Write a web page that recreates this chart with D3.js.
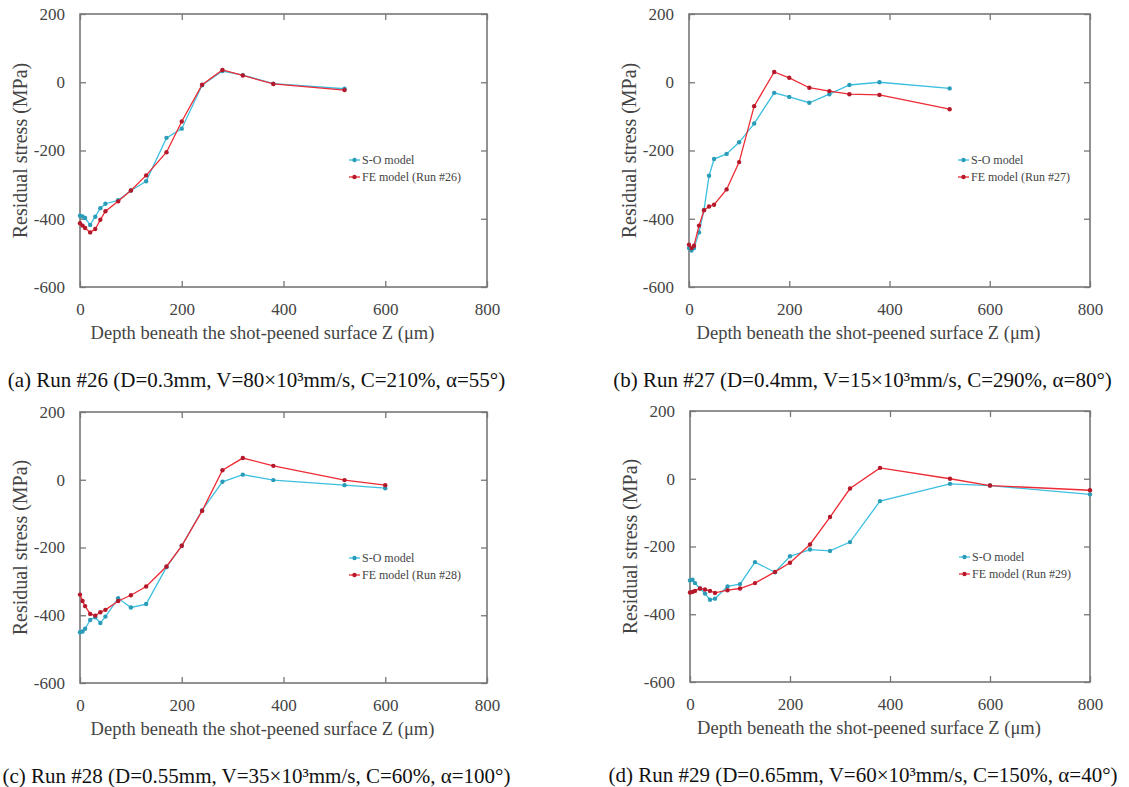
<!DOCTYPE html>
<html>
<head>
<meta charset="utf-8">
<style>
  body { margin: 0; background: #fff; }
  svg { display: block; }
  text { font-family: "Liberation Serif", serif; }
  .tick line { stroke: #777; stroke-width: 1.3; }
</style>
<script src="https://d3js.org/d3.v7.min.js"></script>
</head>
<body>
<script>
// depth grids (um)
var depthAB = [0, 5, 10, 20, 30, 40, 50, 75, 100, 130, 170, 200, 240, 280, 320, 380, 520];
var depthC = [0, 5, 10, 20, 30, 40, 50, 75, 100, 130, 170, 200, 240, 280, 320, 380, 520, 600];
var depthD = [0, 5, 10, 20, 30, 40, 50, 75, 100, 130, 170, 200, 240, 280, 320, 380, 520, 600, 800];

// residual stress (MPa)
var soA = [-391, -393, -398, -418, -394, -369, -356, -346, -317, -290, -163, -136, -9, 33, 21, -4, -19];
var feA = [-413, -420, -427, -440, -430, -403, -378, -349, -317, -273, -205, -115, -7, 36, 20, -5, -23];
var soB = [-486, -493, -486, -440, -374, -274, -225, -210, -176, -121, -31, -43, -60, -35, -8, 0, -18];
var feB = [-476, -486, -479, -420, -375, -364, -359, -314, -234, -70, 30, 13, -16, -26, -35, -37, -79];
var soC = [-450, -448, -440, -414, -406, -423, -404, -350, -377, -367, -258, -195, -90, -6, 15, -1, -16, -25];
var feC = [-339, -358, -373, -396, -401, -391, -384, -358, -341, -315, -256, -195, -92, 28, 64, 41, -1, -16];
var soD = [-300, -298, -308, -324, -339, -357, -354, -318, -311, -246, -276, -229, -209, -213, -187, -66, -15, -20, -46];
var feD = [-336, -334, -331, -324, -327, -331, -337, -329, -324, -308, -275, -248, -194, -113, -29, 32, 0, -20, -34];

var xTicks = [0, 200, 400, 600, 800];
var yTicks = [200, 0, -200, -400, -600];
var runLabels = ["FE model (Run #26)", "FE model (Run #27)", "FE model (Run #28)", "FE model (Run #29)"];
var captions = [
  "(a) Run #26 (D=0.3mm, V=80\u00d710\u00b3mm/s, C=210%, \u03b1=55\u00b0)",
  "(b) Run #27 (D=0.4mm, V=15\u00d710\u00b3mm/s, C=290%, \u03b1=80\u00b0)",
  "(c) Run #28 (D=0.55mm, V=35\u00d710\u00b3mm/s, C=60%, \u03b1=100\u00b0)",
  "(d) Run #29 (D=0.65mm, V=60\u00d710\u00b3mm/s, C=150%, \u03b1=40\u00b0)"
];

var serif = "Liberation Serif";
var soColor = "#3cbfe0", soMark = "#2a9cb8";
var feColor = "#ee2a34", feMark = "#b5182a";

var svg = d3.select("body").append("svg")
  .attr("width", 1129).attr("height", 787);

var panels = [
  {x: 80,  y: 14,  w: 407, h: 273, depth: depthAB, so: soA, fe: feA},
  {x: 689, y: 14,  w: 401, h: 273, depth: depthAB, so: soB, fe: feB},
  {x: 80,  y: 412, w: 407, h: 271, depth: depthC,  so: soC, fe: feC},
  {x: 690, y: 411, w: 400, h: 271, depth: depthD,  so: soD, fe: feD}
];

panels.forEach(function (p, i) {
  var g = svg.append("g").attr("transform", "translate(" + p.x + "," + p.y + ")");
  var x = d3.scaleLinear().domain([0, 800]).range([0, p.w]);
  var y = d3.scaleLinear().domain([-600, 200]).range([p.h, 0]);

  // axes with inward ticks, mirrored on top/right
  var ax = [
    g.append("g").attr("transform", "translate(0," + p.h + ")")
      .call(d3.axisBottom(x).tickValues(xTicks).tickSizeInner(-6).tickSizeOuter(0).tickPadding(16)),
    g.append("g")
      .call(d3.axisLeft(y).tickValues(yTicks).tickSizeInner(-6).tickSizeOuter(0).tickPadding(15)
        .tickFormat(function (d) { return String(d); })),
    g.append("g")
      .call(d3.axisTop(x).tickValues(xTicks).tickSizeInner(-6).tickSizeOuter(0).tickFormat("")),
    g.append("g").attr("transform", "translate(" + p.w + ",0)")
      .call(d3.axisRight(y).tickValues(yTicks).tickSizeInner(-6).tickSizeOuter(0).tickFormat(""))
  ];
  ax.forEach(function (a) {
    a.attr("font-family", serif).attr("font-size", 17);
    a.selectAll(".tick text").attr("fill", "#444").attr("font-family", serif);
    a.select(".domain").remove();
  });

  g.append("rect")
    .attr("width", p.w).attr("height", p.h)
    .attr("fill", "none").attr("stroke", "#777").attr("stroke-width", 1.6);

  var line = d3.line()
    .x(function (d) { return x(d[0]); })
    .y(function (d) { return y(d[1]); });

  var series = [
    {vals: p.so, color: soColor, mark: soMark},
    {vals: p.fe, color: feColor, mark: feMark}
  ];
  series.forEach(function (s) {
    var pts = d3.zip(p.depth, s.vals);
    g.append("path").datum(pts)
      .attr("d", line).attr("fill", "none")
      .attr("stroke", s.color).attr("stroke-width", 1.3);
    g.selectAll(null).data(pts).enter().append("circle")
      .attr("cx", function (d) { return x(d[0]); })
      .attr("cy", function (d) { return y(d[1]); })
      .attr("r", 2.2).attr("fill", s.mark);
  });

  // legend
  var names = ["S-O model", runLabels[i]];
  var lg = g.append("g").attr("transform", "translate(269,146)");
  series.forEach(function (s, k) {
    var row = lg.append("g").attr("transform", "translate(0," + (k * 17) + ")");
    row.append("line").attr("x1", 0).attr("x2", 11)
      .attr("stroke", s.color).attr("stroke-width", 1.3);
    row.append("circle").attr("cx", 5.5).attr("r", 2.2).attr("fill", s.mark);
    row.append("text").attr("x", 13).attr("dy", "0.35em")
      .attr("font-family", serif)
      .attr("font-size", 12).attr("fill", "#444").text(names[k]);
  });

  // axis titles
  g.append("text")
    .attr("transform", "translate(-60," + (p.h / 2) + ") rotate(-90)")
    .attr("text-anchor", "middle").attr("dy", "0.35em")
    .attr("font-family", serif)
    .attr("font-size", 20).attr("fill", "#444")
    .text("Residual stress (MPa)");
  g.append("text")
    .attr("x", p.w / 2 - 21).attr("y", p.h + 52)
    .attr("text-anchor", "middle")
    .attr("font-family", serif)
    .attr("font-size", 18.5).attr("fill", "#444")
    .text("Depth beneath the shot-peened surface Z (\u03bcm)");

  // caption
  g.append("text")
    .attr("x", p.w / 2 - 27).attr("y", p.h + 100)
    .attr("text-anchor", "middle")
    .attr("font-family", serif)
    .attr("font-size", 21).attr("fill", "#111")
    .text(captions[i]);
});
</script>
</body>
</html>
